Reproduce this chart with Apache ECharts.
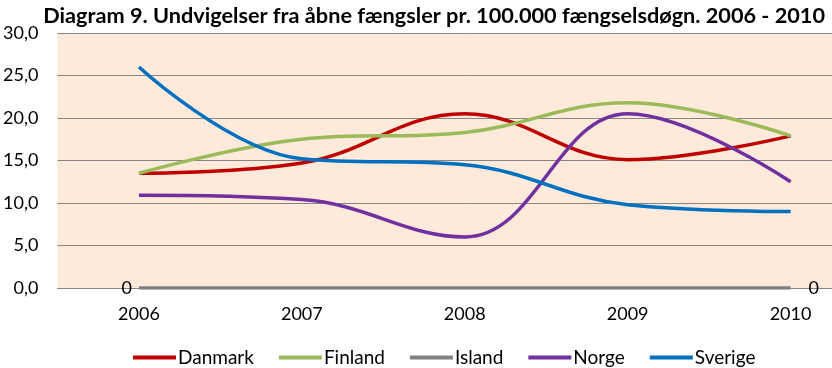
<!DOCTYPE html>
<html><head><meta charset="utf-8">
<script src="https://cdn.jsdelivr.net/npm/echarts@6/dist/echarts.min.js"></script>
<style>html,body{margin:0;padding:0;background:#fff;overflow:hidden;width:832px;height:368px}#c{width:872px;height:368px}</style>
</head><body><div id="c"></div>
<script>
const titleText = 'Diagram 9. Undvigelser fra åbne fængsler pr. 100.000 fængselsdøgn. 2006 - 2010';
const years = ['2006','2007','2008','2009','2010'];
const danmark = [13.5, 14.7, 20.5, 15.1, 17.9];
const finland = [13.5, 17.5, 18.3, 21.8, 17.9];
const island  = [0, 0, 0, 0, 0];
const norge   = [10.9, 10.4, 6.0, 20.5, 12.5];
const sverige = [26.0, 15.2, 14.5, 9.8, 9.0];
const names = ['Danmark','Finland','Island','Norge','Sverige'];
const colors = ['#C00000','#9BBB59','#808080','#7030A0','#0070C0'];
const FONT = 'Lato';

const chart = echarts.init(document.getElementById('c'));
const seriesData = [danmark, finland, island, norge, sverige];
const series = names.map((n, i) => {
  let data = seriesData[i].slice();
  if (n === 'Island') {
    data = data.map((v, j) => {
      if (j === 0) return {value: v, label: {show: true, position: 'left', distance: 7}};
      if (j === data.length - 1) return {value: v, label: {show: true, position: 'right', distance: 18}};
      return v;
    });
  }
  return {
    name: n, type: 'line', smooth: 0.4, data: data,
    symbol: 'circle', symbolSize: 0.01, showSymbol: true,
    lineStyle: {color: colors[i], width: 3.5},
    itemStyle: {color: colors[i]},
    z: n === 'Island' ? 1 : 2,
    label: {show: false, formatter: p => String(p.value), color: '#000', fontFamily: FONT, fontSize: 18},
    labelLayout: {hideOverlap: false}
  };
});

chart.setOption({
  animation: false,
  textStyle: {fontFamily: FONT},
  title: {text: titleText, right: 42, top: 0,
    textStyle: {fontFamily: FONT, fontWeight: 'bold', fontSize: 21.7, color: '#000'}},
  grid: {left: 57.5, top: 33, right: 0, height: 255, show: true,
    backgroundColor: '#FDEADA', borderWidth: 0, containLabel: false},
  xAxis: {type: 'category', data: years, boundaryGap: true,
    axisLine: {show: true, lineStyle: {color: '#868686', width: 1}},
    axisTick: {show: false},
    axisLabel: {color: '#000', fontSize: 18, fontFamily: FONT, margin: 17}},
  yAxis: {type: 'value', min: 0, max: 30, interval: 5,
    axisLine: {show: false}, axisTick: {show: false},
    splitLine: {lineStyle: {color: '#868686', width: 1}},
    axisLabel: {color: '#000', fontSize: 18, fontFamily: FONT, margin: 19,
      formatter: v => v.toFixed(1).replace('.', ',')}},
  legend: {left: 128, top: 343, itemWidth: 43, itemHeight: 4, itemGap: 25, icon: 'rect',
    data: names,
    textStyle: {color: '#000', fontSize: 19, fontFamily: FONT, padding: [0,0,0,-3]}},
  series: series
});
</script></body></html>
